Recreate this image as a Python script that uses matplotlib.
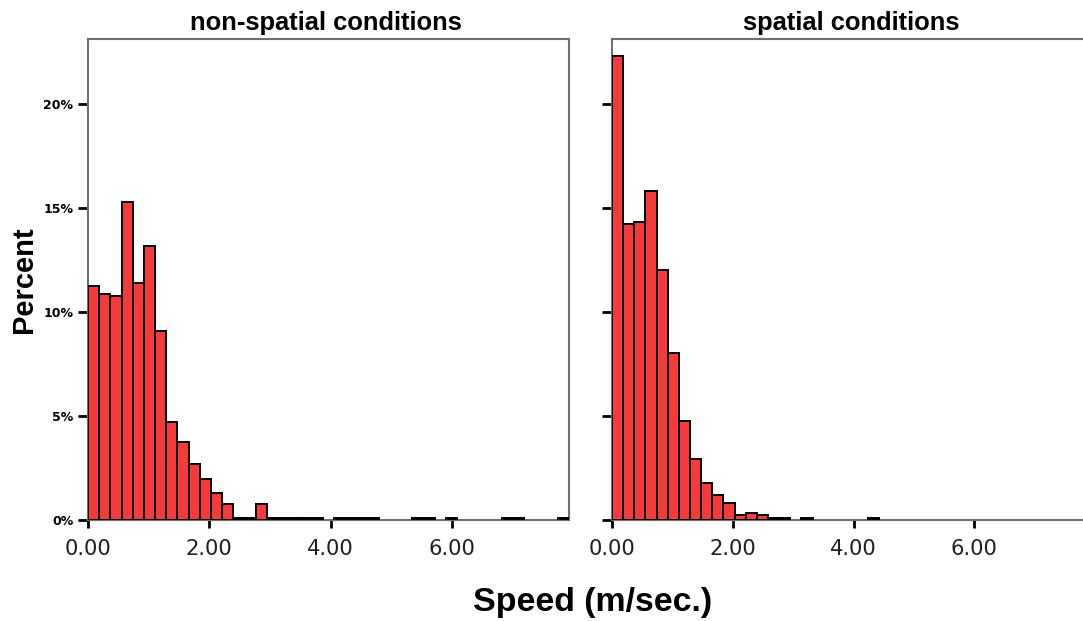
import numpy as np
import matplotlib
matplotlib.use('Agg')
import matplotlib.pyplot as plt

# bin width (m/sec.) and percent per bin
bin_width = 0.1845
n_bins = 43

nonspatial_pct = [11.25, 10.85, 10.75, 15.25, 11.4, 13.15, 9.1, 4.7, 3.75, 2.7,
                  1.95, 1.3, 0.77, 0.1, 0.1, 0.77, 0.1, 0.1, 0.1, 0.1,
                  0.1, 0, 0.1, 0.1, 0.1, 0.1, 0, 0, 0, 0.1,
                  0.1, 0, 0.1, 0, 0, 0, 0, 0.1, 0.1, 0,
                  0, 0, 0.1]
spatial_pct = [22.3, 14.2, 14.3, 15.8, 12.0, 8.0, 4.75, 2.95, 1.8, 1.2,
               0.83, 0.24, 0.35, 0.24, 0.1, 0.1, 0, 0.1, 0, 0,
               0, 0, 0, 0.1, 0, 0, 0, 0, 0, 0,
               0, 0, 0, 0, 0, 0, 0, 0, 0, 0,
               0, 0, 0]

titles = ['non-spatial conditions', 'spatial conditions']
x_ticks = [0, 2, 4, 6]
x_labels = ['0.00', '2.00', '4.00', '6.00']
y_ticks = [0, 5, 10, 15, 20]
y_labels = ['0%', '5%', '10%', '15%', '20%']

W, H = 1083, 621
fig = plt.figure(figsize=(W / 100, H / 100), dpi=100)

ax1 = fig.add_axes([88 / W, 101 / H, 481 / W, 481 / H])
ax2 = fig.add_axes([612 / W, 101 / H, 479 / W, 481 / H])

edges = np.arange(n_bins + 1) * bin_width

for ax, pct, title, cx in [(ax1, nonspatial_pct, titles[0], 326),
                           (ax2, spatial_pct, titles[1], 851)]:
    pct = np.array(pct)
    keep = pct > 0
    ax.bar(edges[:-1][keep], pct[keep], width=bin_width, align='edge',
           color='#f43a3a', edgecolor='black', linewidth=1.4, zorder=3)
    ax.set_xlim(0, edges[-1])
    ax.set_ylim(0, 23.1)
    for s in ax.spines.values():
        s.set_color('#707070')
        s.set_linewidth(1.5)
    ax.set_xticks(x_ticks)
    ax.set_xticklabels(x_labels, fontsize=15.2, family='DejaVu Sans',
                       color='#222222')
    ax.tick_params(axis='x', direction='out', length=6, width=2, pad=8,
                   color='black')
    ax.set_yticks(y_ticks)
    ax.tick_params(axis='y', direction='out', length=7, width=2, pad=3.5,
                   color='black')
    fig.text(cx / W, 1 - 23 / H, title, ha='center', va='center',
             fontsize=18.4, fontweight='bold', family='Liberation Sans')

ax1.set_yticklabels(y_labels, fontsize=9, fontweight='bold',
                    family='DejaVu Sans')
ax2.set_yticklabels([])

fig.text(24 / W, 1 - 280 / H, 'Percent', rotation=90, ha='center', va='center',
         fontsize=21, fontweight='bold', family='Liberation Sans')
fig.text(593 / W, 1 - 603 / H, 'Speed (m/sec.)', ha='center', va='center',
         fontsize=24.4, fontweight='bold', family='Liberation Sans')

fig.savefig('out.png', dpi=100)
